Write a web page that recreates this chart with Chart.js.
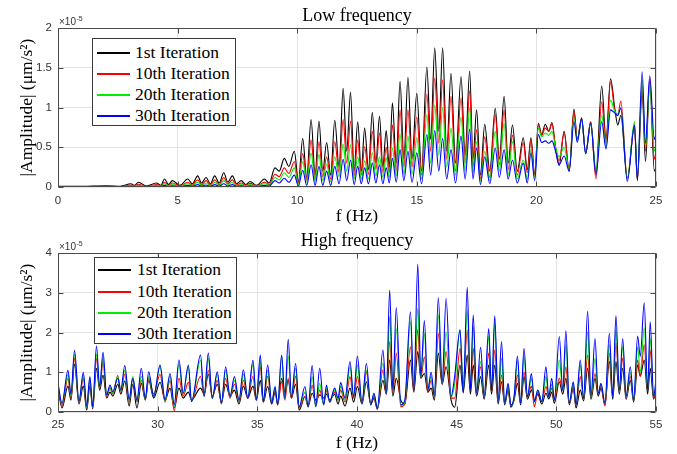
<!DOCTYPE html>
<html><head><meta charset="utf-8">
<script src="https://cdn.jsdelivr.net/npm/chart.js@4.4.0/dist/chart.umd.min.js"></script>
<style>
html,body{margin:0;padding:0;background:#fff;}
#wrap{position:relative;width:677px;height:454px;overflow:hidden;background:#fff;}
canvas{position:absolute;left:0;}
#c1{top:0;} #c2{top:227px;}
.legend{position:absolute;background:#fff;border:1px solid #3a3a3a;font-family:"Liberation Serif","Times New Roman",serif;font-size:17.5px;color:#000;box-sizing:border-box;}
.legend .row{position:absolute;left:0;height:21px;line-height:21px;white-space:nowrap;width:100%;}
.legend .sw{position:absolute;top:10px;height:2px;width:33px;}
.legend .tx{position:absolute;top:0;}
</style></head>
<body>
<div id="wrap">
<canvas id="c1" width="677" height="227"></canvas>
<canvas id="c2" width="677" height="227"></canvas>
<div class="legend" id="lg1" style="left:92px;top:38px;width:144px;height:88px;"></div>
<div class="legend" id="lg2" style="left:94px;top:257px;width:143px;height:87px;"></div>
</div>
<script>
// ---------- data (amplitudes in units of 1e-5 um/s^2) ----------
const seriesNames = ['1st Iteration','10th Iteration','20th Iteration','30th Iteration'];
const seriesColors = ['#000000','#ff0000','#00ee00','#0000ff'];

const lowXTicks = [0,5,10,15,20,25];
const lowYTicks = [0,0.5,1,1.5,2];
const highXTicks = [25,30,35,40,45,50,55];
const highYTicks = [0,1,2,3,4];

const lowFreq = [0,1,2,2.6,3.05,3.2,3.36,3.7,4.12,4.3,
 4.45,4.62,4.78,5.1,5.42,5.62,5.84,6.0,6.19,6.37,
 6.55,6.74,6.93,7.1,7.29,7.47,7.66,7.85,8.03,8.3,
 8.63,8.83,9.07,9.25,9.46,9.65,9.88,10.05,10.23,10.4,
 10.58,10.75,10.91,11.07,11.23,11.4,11.57,11.75,11.92,12.07,
 12.23,12.38,12.53,12.68,12.82,12.98,13.14,13.29,13.44,13.58,
 13.72,13.85,13.98,14.14,14.3,14.46,14.63,14.8,15.0,15.2,
 15.42,15.58,15.75,15.92,16.08,16.25,16.43,16.62,16.85,17.02,
 17.21,17.35,17.5,17.66,17.84,18.05,18.28,18.45,18.65,18.82,
 19.0,19.2,19.45,19.62,19.77,19.93,20.08,20.22,20.37,20.52,
 20.65,20.8,20.95,21.16,21.37,21.57,21.71,21.89,22.06,22.27,
 22.49,22.73,22.91,23.1,23.28,23.4,23.53,23.8,24.1,24.22,
 24.42,24.56,24.74,24.93,25];
const lowIter1 = [.010,.008,.015,.010,.040,.020,.060,.012,.050,.020,
 .100,.030,.080,.020,.100,.040,.140,.050,.120,.040,
 .140,.050,.180,.060,.140,.040,.080,.030,.070,.020,
 .100,.050,.240,.200,.360,.260,.450,.070,.610,.120,
 .850,.150,.830,.200,.560,.150,.840,.250,1.24,.450,
 1.19,.200,.820,.200,.740,.220,.940,.300,.890,.250,
 .710,.250,1.06,.300,1.33,.350,1.38,.350,1.18,.200,
 1.51,.600,1.75,.700,1.75,.450,1.43,.300,1.39,.400,
 1.46,.350,.970,.150,.790,.200,.990,.350,1.14,.300,
 .780,.200,.620,.220,.620,.150,.800,.660,.790,.700,
 .810,.500,.270,.700,.200,.980,.600,.870,.420,.820,
 .180,1.27,.600,1.36,.980,.780,.900,.100,.780,.080,
 1.20,.320,1.33,.200,.250];
const lowIter10 = [.006,.005,.010,.006,.025,.012,.035,.008,.030,.012,
 .060,.020,.050,.012,.060,.025,.090,.030,.080,.025,
 .090,.030,.120,.040,.090,.025,.050,.020,.045,.012,
 .060,.030,.160,.130,.240,.170,.320,.050,.420,.090,
 .590,.100,.570,.130,.380,.100,.570,.180,.850,.300,
 .830,.140,.590,.150,.510,.160,.700,.220,.680,.180,
 .500,.180,.780,.200,.970,.250,.970,.250,.880,.150,
 1.17,.450,1.37,.550,1.35,.350,1.14,.200,1.12,.300,
 1.21,.250,.720,.100,.630,.120,.910,.280,.970,.220,
 .650,.150,.560,.180,.590,.150,.780,.650,.740,.700,
 .800,.500,.330,.680,.200,.950,.600,.840,.430,.820,
 .100,1.07,.550,1.32,.950,.900,1.08,.100,.760,.100,
 1.28,.450,1.36,.350,.450];
const lowIter20 = [.004,.004,.006,.004,.015,.008,.020,.005,.020,.008,
 .040,.010,.030,.008,.040,.015,.060,.020,.050,.015,
 .060,.020,.080,.025,.060,.015,.030,.010,.030,.008,
 .040,.020,.120,.090,.180,.120,.240,.030,.320,.060,
 .430,.070,.410,.080,.290,.070,.380,.130,.540,.200,
 .530,.100,.380,.100,.330,.100,.430,.140,.380,.120,
 .370,.120,.490,.140,.670,.160,.640,.160,.620,.100,
 .910,.300,1.03,.400,1.00,.250,.740,.150,.880,.200,
 .990,.180,.570,.070,.450,.080,.700,.200,.800,.150,
 .570,.100,.340,.100,.470,.120,.740,.630,.680,.650,
 .700,.500,.380,.500,.220,.860,.580,.850,.420,.800,
 .200,.900,.500,1.09,.950,.920,1.00,.100,.820,.120,
 1.35,.500,1.30,.450,.550];
const lowIter30 = [.003,.003,.004,.003,.008,.004,.010,.003,.010,.004,
 .020,.005,.015,.004,.020,.008,.030,.010,.025,.008,
 .030,.010,.040,.012,.030,.008,.015,.005,.015,.004,
 .020,.010,.080,.050,.110,.060,.150,.010,.210,.020,
 .280,.020,.260,.020,.200,.020,.260,.040,.350,.080,
 .340,.030,.260,.040,.240,.040,.300,.050,.280,.040,
 .240,.050,.360,.060,.470,.080,.450,.060,.430,.040,
 .660,.150,.710,.200,.610,.100,.470,.050,.640,.100,
 .730,.100,.490,.030,.380,.040,.490,.120,.470,.100,
 .340,.050,.300,.050,.430,.080,.660,.560,.580,.550,
 .580,.450,.280,.390,.200,.820,.560,.860,.420,.800,
 .150,.820,.480,.970,.930,.900,.990,.070,.780,.100,
 1.45,.550,1.40,.600,.680];

const highFreq = [25.0,25.2,25.5,25.65,25.83,26.05,26.27,26.44,26.6,26.74,
 26.93,27.09,27.26,27.44,27.61,27.75,28.0,28.15,28.35,28.57,
 28.75,28.96,29.18,29.38,29.55,29.8,30.12,30.37,30.62,30.83,
 31.07,31.28,31.54,31.7,32.15,32.33,32.54,32.74,32.99,33.2,
 33.41,33.63,33.85,34.08,34.3,34.52,34.78,34.95,35.15,35.3,
 35.52,35.72,35.89,36.02,36.22,36.38,36.55,36.71,36.92,37.1,
 37.39,37.55,37.75,37.93,38.13,38.33,38.47,38.63,38.88,39.05,
 39.18,39.4,39.65,39.83,40.02,40.25,40.47,40.69,40.85,41.02,
 41.3,41.47,41.64,41.8,41.97,42.2,42.4,42.68,42.85,43.05,
 43.2,43.38,43.55,43.72,43.88,44.08,44.27,44.47,44.72,44.9,
 45.17,45.33,45.53,45.69,45.83,46.0,46.2,46.38,46.61,46.75,
 46.91,47.08,47.25,47.41,47.58,47.72,47.88,48.05,48.21,48.38,
 48.55,48.75,48.9,49.07,49.27,49.48,49.62,49.77,49.9,50.15,
 50.32,50.48,50.65,50.85,50.99,51.2,51.37,51.57,51.74,51.94,
 52.1,52.24,52.44,52.66,52.83,52.99,53.16,53.33,53.5,53.71,
 53.88,54.08,54.21,54.41,54.58,54.71,54.88,55.0];
const highIter1 = [.60,.10,.65,.30,1.20,.20,.65,.05,.65,.08,
 1.10,.55,.93,.35,.50,.40,.70,.45,.78,.15,
 .70,.10,.72,.30,.80,.35,.75,.30,.60,.10,
 .60,.35,.50,.30,.60,.45,.95,.40,.70,.25,
 .70,.40,.55,.20,.65,.35,.65,.30,.80,.25,
 .64,.20,.50,.20,.85,.50,.80,.35,.70,.05,
 .39,.15,.47,.30,.43,.35,.45,.30,.45,.20,
 .40,.15,.60,.25,.64,.20,.76,.20,.35,.07,
 .80,.45,1.31,.40,.85,.30,.20,1.31,.50,1.52,
 .85,.97,.50,.60,.30,1.48,.70,1.14,.30,.12,
 1.18,.50,1.43,.45,1.18,.40,.89,.32,1.18,.45,
 1.18,.20,.76,.18,.55,.12,.30,.72,.18,.89,
 .32,.55,.30,.45,.20,.47,.33,.50,.22,.76,
 .45,.85,.18,.60,.10,.55,.28,1.10,.32,.85,
 .40,.60,.18,1.27,.32,1.27,.45,1.10,.32,.80,
 .25,1.18,.90,1.31,.45,1.10,.32,.60];
const highIter10 = [.65,.15,.85,.35,1.35,.22,.85,.10,.80,.10,
 1.35,.60,1.25,.40,.60,.45,.92,.50,.95,.25,
 .85,.25,.80,.32,.85,.45,.95,.25,.80,.03,
 .85,.40,.75,.28,.90,.40,1.05,.35,.80,.20,
 .85,.35,.70,.25,.80,.35,.90,.30,1.14,.25,
 .90,.25,.55,.18,.76,.30,.85,.35,.90,.10,
 .39,.13,.68,.15,.55,.20,.55,.25,.50,.30,
 .55,.25,.89,.35,.89,.22,1.01,.18,.40,.08,
 1.06,.45,1.77,.50,1.48,.13,.20,1.64,.55,2.08,
 .85,1.39,.50,.80,.35,1.98,.70,1.52,.35,.35,
 1.60,.70,2.06,.55,1.60,.47,1.14,.38,1.48,.50,
 1.56,.26,.93,.22,.60,.15,.32,.93,.22,1.01,
 .38,.65,.13,.50,.26,.64,.38,.60,.30,.85,
 .55,1.14,.22,.65,.15,.89,.34,1.43,.39,.97,
 .47,.65,.15,1.48,.39,1.73,.55,1.35,.39,.90,
 .30,1.31,.90,1.69,.55,1.56,.39,.39];
const highIter20 = [.70,.20,.95,.40,1.45,.25,.95,.12,.85,.12,
 1.45,.62,1.35,.42,.62,.48,.90,.52,1.05,.28,
 .90,.28,.90,.33,.90,.40,1.15,.28,.90,.12,
 1.20,.45,1.15,.26,1.30,.40,1.35,.35,.95,.22,
 1.05,.38,.80,.28,.95,.36,1.20,.30,1.27,.26,
 1.05,.25,.60,.18,1.41,.33,1.41,.38,1.10,.12,
 .50,.13,.89,.14,.72,.18,.60,.25,.55,.30,
 .65,.30,1.14,.38,1.18,.22,1.05,.18,.45,.09,
 1.23,.47,2.40,.55,2.10,.15,.25,2.27,.60,2.61,
 .88,1.98,.55,.90,.38,2.44,.72,2.02,.38,.70,
 2.08,.55,2.57,.60,2.15,.47,1.27,.38,1.90,.52,
 2.23,.26,1.35,.22,.65,.17,.35,1.31,.22,1.39,
 .38,.85,.25,.55,.26,.89,.38,.70,.30,1.31,
 .55,1.69,.22,.70,.18,1.18,.34,2.02,.39,1.35,
 .47,.70,.22,1.69,.39,2.06,.55,1.64,.39,1.00,
 .30,1.64,1.00,2.12,.55,1.85,.39,.70];
const highIter30 = [.72,.22,1.05,.45,1.55,.26,1.00,.15,.89,.13,
 1.66,.64,1.50,.43,.68,.51,.85,.55,1.17,.32,
 .85,.30,1.10,.34,1.01,.39,1.18,.30,.97,.18,
 1.31,.47,1.18,.26,1.43,.39,1.48,.34,1.01,.22,
 1.14,.39,.89,.30,1.06,.34,1.30,.30,1.43,.26,
 1.18,.22,.64,.18,1.43,.34,1.83,.38,1.22,.13,
 .64,.13,1.17,.13,1.10,.18,.68,.25,.60,.35,
 .74,.35,1.27,.39,1.41,.22,1.22,.18,.47,.09,
 1.56,.47,3.07,.55,2.63,.18,.30,2.52,.55,3.72,
 .90,2.30,.55,1.00,.40,2.88,.72,2.86,.39,.90,
 2.06,.47,3.14,.55,2.44,.47,1.63,.38,2.10,.52,
 2.42,.26,1.77,.22,.72,.17,.38,1.41,.22,1.60,
 .38,.97,.26,.55,.26,1.14,.38,.85,.30,1.90,
 .55,2.04,.22,.76,.18,1.31,.34,2.54,.39,1.85,
 .47,.72,.22,1.98,.39,2.42,.55,1.85,.39,1.14,
 .30,1.91,1.40,2.75,.55,2.27,.39,.80];

// ---------- drawing ----------
const frame = {
  id: 'frame',
  afterDatasetsDraw(chart, args, o) {
    const {ctx, chartArea: a, scales: {x, y}} = chart;
    ctx.save();
    ctx.strokeStyle = '#4a4a4a'; ctx.lineWidth = 1;
    const L = Math.round(a.left) + 0.5, R = Math.round(a.right) - 0.5,
          T = Math.round(a.top) + 0.5, B = Math.round(a.bottom) - 0.5;
    ctx.beginPath();
    ctx.rect(L, T, R - L, B - T);
    x.ticks.forEach(t => { const p = Math.round(x.getPixelForValue(t.value)) + 0.5;
      ctx.moveTo(p, B); ctx.lineTo(p, B - 5); ctx.moveTo(p, T); ctx.lineTo(p, T + 5); });
    y.ticks.forEach(t => { const p = Math.round(y.getPixelForValue(t.value)) + 0.5;
      ctx.moveTo(L, p); ctx.lineTo(L + 5, p); ctx.moveTo(R, p); ctx.lineTo(R - 5, p); });
    ctx.stroke();
    ctx.fillStyle = '#000';
    ctx.font = '18px "Liberation Serif", "Times New Roman", serif';
    ctx.textAlign = 'center'; ctx.textBaseline = 'alphabetic';
    ctx.fillText(o.title, (a.left + a.right) / 2, o.titleY);
    ctx.fillStyle = '#333';
    ctx.font = '10px "Liberation Sans", Arial, sans-serif';
    ctx.textAlign = 'left';
    ctx.fillText('×10', 59, o.expY);
    const w = ctx.measureText('×10').width;
    ctx.font = '7px "Liberation Sans", Arial, sans-serif';
    ctx.fillText('-5', 59 + w + 0.5, o.expY - 4.5);
    ctx.restore();
  }
};

function build(id, cfg) {
  const mk = (ys, i) => ({
    label: seriesNames[i],
    data: cfg.f.map((xv, k) => ({x: xv, y: ys[k]})),
    borderColor: seriesColors[i], backgroundColor: seriesColors[i],
    borderWidth: 1.1, pointRadius: 0, fill: false,
    cubicInterpolationMode: 'monotone', order: 3 - i
  });
  const tickFont = {family: '"Liberation Sans", Arial, sans-serif', size: 11.5};
  const labFont = {family: '"Liberation Serif", "Times New Roman", serif', size: 17.5};
  return new Chart(document.getElementById(id), {
    type: 'line',
    data: {datasets: cfg.series.map(mk)},
    options: {
      responsive: false, animation: false, events: [],
      layout: {padding: {left: 0, right: 21, top: cfg.top, bottom: 0}},
      plugins: {legend: {display: false}, tooltip: {enabled: false}, title: {display: false},
        frame: {title: cfg.title, titleY: cfg.titleY, expY: cfg.expY}},
      scales: {
        x: {type: 'linear', min: cfg.xmin, max: cfg.xmax,
          afterBuildTicks: s => { s.ticks = cfg.xt.map(v => ({value: v})); },
          afterFit: s => { s.height = cfg.xh; },
          grid: {color: '#e4e4e4', drawTicks: false},
          border: {display: false},
          ticks: {padding: cfg.xpad, color: '#333', font: tickFont, maxRotation: 0, autoSkip: false,
            callback: v => String(v)},
          title: {display: true, text: 'f (Hz)', color: '#000', font: labFont, padding: {top: 0, bottom: 0.5}}
        },
        y: {type: 'linear', min: 0, max: cfg.ymax,
          afterBuildTicks: s => { s.ticks = cfg.yt.map(v => ({value: v})); },
          afterFit: s => { s.width = 58; },
          grid: {color: '#e4e4e4', drawTicks: false},
          border: {display: false},
          ticks: {padding: 6, color: '#333', font: tickFont, autoSkip: false,
            callback: v => String(v)},
          title: {display: true, text: '|Amplitude| (μm/s²)', color: '#000', font: labFont, padding: {top: 16.5, bottom: 0}}
        }
      }
    },
    plugins: [frame]
  });
}

build('c1', {f: lowFreq, series: [lowIter1, lowIter10, lowIter20, lowIter30],
  xmin: 0, xmax: 25, ymax: 2, xt: lowXTicks, yt: lowYTicks,
  top: 28, xh: 40, xpad: 7, title: 'Low frequency', titleY: 20.7, expY: 25});
build('c2', {f: highFreq, series: [highIter1, highIter10, highIter20, highIter30],
  xmin: 25, xmax: 55, ymax: 4, xt: highXTicks, yt: highYTicks,
  top: 26, xh: 42, xpad: 6, title: 'High frequency', titleY: 18.7, expY: 23});

function legend(id, rowsTop, swLeft, txLeft) {
  const el = document.getElementById(id);
  seriesNames.forEach((n, i) => {
    const r = document.createElement('div');
    r.className = 'row'; r.style.top = rowsTop[i] + 'px';
    const sw = document.createElement('div');
    sw.className = 'sw'; sw.style.left = swLeft + 'px'; sw.style.background = seriesColors[i];
    const tx = document.createElement('div');
    tx.className = 'tx'; tx.style.left = txLeft + 'px'; tx.textContent = n;
    r.appendChild(sw); r.appendChild(tx); el.appendChild(r);
  });
}
legend('lg1', [3, 24, 45, 66], 4, 42);
legend('lg2', [1, 23, 44, 65], 3, 42);
</script>
</body></html>
